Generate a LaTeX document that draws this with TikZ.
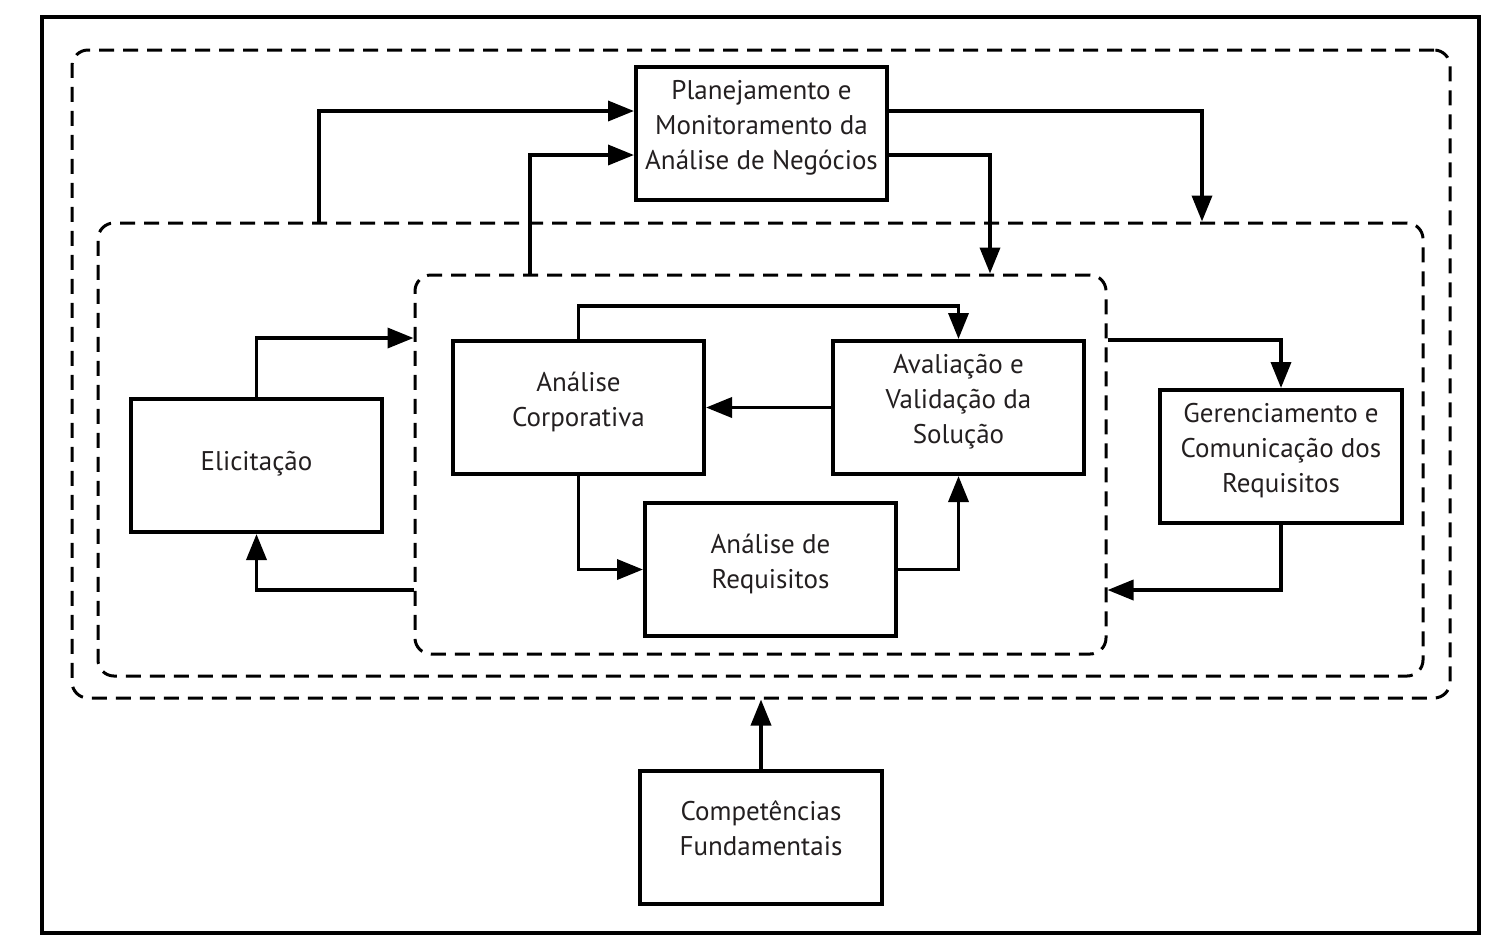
\documentclass[tikz,border=0pt]{standalone}
\usepackage{fontspec}
\setmainfont{PT Sans}
\usetikzlibrary{arrows.meta}
\definecolor{inkgray}{RGB}{35,31,32}
\begin{document}
\begin{tikzpicture}[x=0.5pt,y=-0.5pt,
    box/.style={draw, line width=2pt, minimum width=125.5pt, minimum height=66.5pt,
        inner sep=0pt, align=center, text=inkgray,
        font=\fontsize{13.5}{17.5}\selectfont,
        execute at begin node={\rule{0pt}{13pt}},
        execute at end node={\rule[-8.5pt]{0pt}{8.5pt}}},
    region/.style={draw, line width=1.5pt, dash pattern=on 7.5pt off 4.5pt,
        rounded corners=8pt, inner sep=0pt},
    flow/.style={line width=1.8pt, -{Triangle[length=13pt,width=10pt]}}]
    \useasboundingbox (0,0) rectangle (1504,950);

    % Frame and the three dashed regions
    \draw[line width=2pt] (42,17) rectangle (1479,933);
    \node[region, minimum width=689pt, minimum height=324pt] (outer) at (761,374) {};
    \node[region, minimum width=662.5pt, minimum height=226.5pt] (mid) at (760.5,449.5) {};
    \node[region, minimum width=345.5pt, minimum height=189.5pt] (inner) at (760.5,464.5) {};

    % Knowledge areas
    \node[box] (plan) at (761.5,133) {Planejamento e\\Monitoramento da\\Análise de Negócios};
    \node[box] (corp) at (578.5,407.5) {Análise\\Corporativa};
    \node[box] (aval) at (958.5,407.5) {Avaliação e\\Validação da\\Solução};
    \node[box] (elic) at (256.5,465.5) {Elicitação};
    \node[box] (req) at (770.5,569.5) {Análise de\\Requisitos};
    \node[box, minimum width=121pt] (ger) at (1281,456.5) {Gerenciamento e\\Comunicação dos\\Requisitos};
    \node[box, minimum width=121pt] (comp) at (761,837) {Competências\\Fundamentais};

    % Connections to planning
    \draw[flow] ([xshift=-220.75pt]mid.north) |- ([yshift=11pt]plan.west);
    \draw[flow] ([xshift=-115.25pt]inner.north) |- ([yshift=-11pt]plan.west);
    \draw[flow] ([yshift=11pt]plan.east) -| ([xshift=220.75pt]mid.north);
    \draw[flow] ([yshift=-11pt]plan.east) -| ([xshift=114.75pt]inner.north);

    % Elicitation loop
    \draw[flow] (elic.north) |- ([yshift=63.25pt]inner.west);
    \draw[flow] ([yshift=-62.75pt]inner.west) -| (elic.south);

    % Inside the inner region
    \draw[flow] (corp.north) -- ++(0,-33) -| (aval.north);
    \draw[flow] (aval.west) -- (corp.east);
    \draw[flow] (corp.south) |- (req.west);
    \draw[flow] (req.east) -| (aval.south);

    % Requirements management loop
    \draw[flow] ([yshift=62.25pt]inner.east) -| (ger.north);
    \draw[flow] (ger.south) |- ([yshift=-62.75pt]inner.east);

    % Underlying competencies
    \draw[flow] (comp.north) -- (outer.south);
\end{tikzpicture}
\end{document}
